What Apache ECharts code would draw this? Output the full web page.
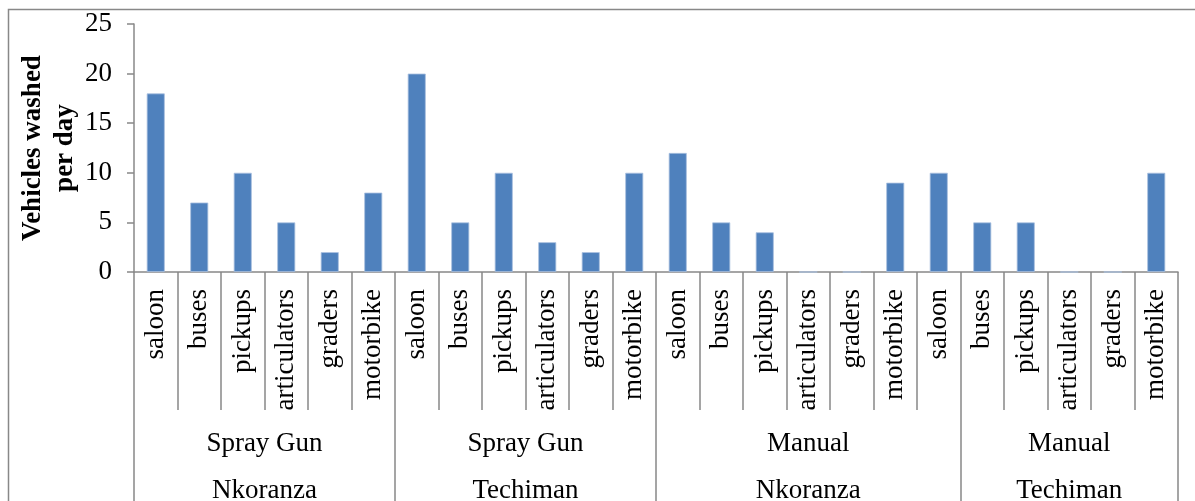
<!DOCTYPE html>
<html>
<head>
<meta charset="utf-8">
<script src="https://cdn.jsdelivr.net/npm/echarts@6/dist/echarts.min.js"></script>
<style>
  html, body { margin: 0; padding: 0; background: #fff; }
  #chart { width: 1195px; height: 501px; }
</style>
</head>
<body>
<div id="chart"></div>
<script>
const vehicleTypes = [
  "saloon", "buses", "pickups", "articulators", "graders", "motorbike",
  "saloon", "buses", "pickups", "articulators", "graders", "motorbike",
  "saloon", "buses", "pickups", "articulators", "graders", "motorbike", "saloon",
  "buses", "pickups", "articulators", "graders", "motorbike",
];
const washedPerDay = [
  18, 7, 10, 5, 2, 8,
  20, 5, 10, 3, 2, 10,
  12, 5, 4, 0, 0, 9, 10,
  5, 5, 0, 0, 10,
];
const groupMethods = ["Spray Gun", "Spray Gun", "Manual", "Manual"];
const groupTowns = ["Nkoranza", "Techiman", "Nkoranza", "Techiman"];
const groupSizes = [6, 6, 7, 5];

const serif = "'Liberation Serif', 'Times New Roman', serif";
const lineGrey = "#888888";
const fontSize = 27;

// half-category slots for the group axes: even slots are category edges
const slotCount = vehicleTypes.length * 2;
const slotLabels = new Array(slotCount + 1).fill("");
const groupEdges = new Set([0]);
let start = 0;
groupSizes.forEach((size, g) => {
  slotLabels[start * 2 + size] = groupMethods[g] + "\n" + groupTowns[g];
  start += size;
  groupEdges.add(start * 2);
});

const chart = echarts.init(document.getElementById("chart"));

const option = {
  animation: false,
  textStyle: { fontFamily: serif },
  grid: {
    left: 134,
    right: 17,
    top: 24,
    bottom: 229,
    containLabel: false,
    outerBoundsMode: "none",
  },
  graphic: [
    {
      type: "rect",
      shape: { x: 8.5, y: 9.5, width: 1400, height: 700 },
      style: { fill: "none", stroke: lineGrey, lineWidth: 1.5 },
      silent: true,
    },
  ],
  xAxis: [
    {
      type: "category",
      data: vehicleTypes,
      axisLine: { lineStyle: { color: lineGrey, width: 1.5 } },
      axisTick: { show: false },
      axisLabel: {
        interval: 0,
        rotate: 90,
        margin: 17,
        fontSize: fontSize,
        fontFamily: serif,
        color: "#000",
      },
    },
    {
      // category dividers under the bars
      type: "category",
      data: slotLabels,
      boundaryGap: false,
      position: "bottom",
      axisLine: { show: false },
      axisTick: {
        show: true,
        interval: (i) => i % 2 === 0,
        length: 138,
        lineStyle: { color: lineGrey, width: 1.5 },
      },
      axisLabel: { show: false },
    },
    {
      // group labels and group dividers
      type: "category",
      data: slotLabels,
      boundaryGap: false,
      position: "bottom",
      axisLine: { show: false },
      axisTick: {
        show: true,
        interval: (i) => groupEdges.has(i),
        length: 320,
        lineStyle: { color: lineGrey, width: 1.5 },
      },
      axisLabel: {
        interval: (i, v) => v !== "",
        margin: 148,
        fontSize: fontSize,
        lineHeight: 47,
        fontFamily: serif,
        color: "#000",
      },
    },
  ],
  yAxis: {
    type: "value",
    min: 0,
    max: 25,
    interval: 5,
    name: "Vehicles washed\nper day",
    nameLocation: "middle",
    nameRotate: 90,
    nameGap: 53,
    nameMoveOverlap: false,
    nameTextStyle: {
      fontSize: fontSize,
      fontWeight: "bold",
      fontFamily: serif,
      lineHeight: 32,
      color: "#000",
    },
    axisLine: { show: true, lineStyle: { color: lineGrey, width: 1.5 } },
    axisTick: { show: true, length: 7, lineStyle: { color: lineGrey, width: 1.5 } },
    splitLine: { show: false },
    axisLabel: { margin: 22, fontSize: fontSize, fontFamily: serif, color: "#000" },
  },
  series: [
    {
      type: "bar",
      xAxisIndex: 0,
      data: washedPerDay,
      barWidth: 18,
      itemStyle: { color: "#4F81BD", borderColor: "#a9c0e0", borderWidth: 0.8 },
    },
  ],
};

chart.setOption(option);
</script>
</body>
</html>
